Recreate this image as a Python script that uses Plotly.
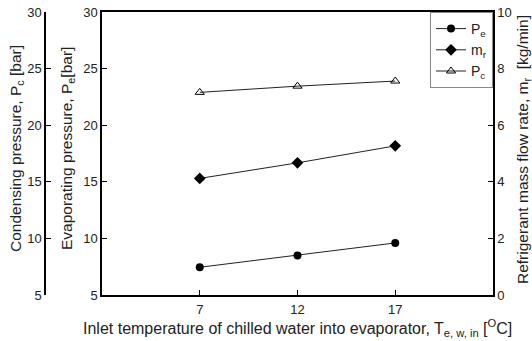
import plotly.graph_objects as go

temps = [7, 12, 17]
pe = [7.45, 8.5, 9.6]
mr = [4.12, 4.67, 5.27]
pc = [22.9, 23.45, 23.9]
x_ticks = [7, 12, 17]
p_ticks = [5, 10, 15, 20, 25, 30]
m_ticks = [0, 2, 4, 6, 8, 10]

W, H = 532, 341
left_px, right_px, top_px, bot_px = 102, 493, 12, 295
x0, x1 = left_px / W, right_px / W
plot_h = bot_px - top_px
font = "Liberation Sans, Arial, sans-serif"


def py(y_px):
    return (bot_px - y_px) / plot_h


fig = go.Figure()
fig.add_trace(go.Scatter(x=temps, y=pe, name="P<sub>e</sub>", mode="lines+markers",
                         line=dict(color="#222", width=1),
                         marker=dict(symbol="circle", size=8, color="black"), yaxis="y"))
fig.add_trace(go.Scatter(x=temps, y=mr, name="m<sub>r</sub>", mode="lines+markers",
                         line=dict(color="#222", width=1),
                         marker=dict(symbol="diamond", size=9, color="black"), yaxis="y2"))
fig.add_trace(go.Scatter(x=temps, y=pc, name="P<sub>c</sub>", mode="lines+markers",
                         line=dict(color="#222", width=1),
                         marker=dict(symbol="triangle-up-open", size=8, color="black",
                                     line=dict(width=1)), yaxis="y3"))

axis_common = dict(showgrid=False, zeroline=False, showline=True, linecolor="black",
                   linewidth=1.5, ticks="inside", ticklen=5, tickcolor="black",
                   automargin=False,
                   tickfont=dict(family=font, size=13, color="#222"))

fig.update_layout(
    width=W, height=H,
    margin=dict(l=0, r=0, t=top_px, b=H - bot_px, autoexpand=False),
    paper_bgcolor="white", plot_bgcolor="white",
    font=dict(family=font, size=13, color="#222"),
    xaxis=dict(domain=[x0, x1], range=[2, 22], tickvals=x_ticks, mirror=True,
               ticklabelstandoff=2, **axis_common),
    yaxis=dict(range=[5, 30], tickvals=p_ticks, **axis_common),
    yaxis2=dict(range=[0, 10], tickvals=m_ticks, overlaying="y", side="right",
                anchor="x", **axis_common),
    yaxis3=dict(range=[5, 30], tickvals=p_ticks, overlaying="y", side="left",
                anchor="free", position=45 / W, **axis_common),
    legend=dict(x=x1, xanchor="right", y=1, yanchor="top", bgcolor="white",
                bordercolor="#888", borderwidth=1, font=dict(family=font, size=14),
                tracegroupgap=0, itemwidth=30),
    showlegend=True,
)

fig.add_annotation(text="Condensing pressure, P<sub>c</sub> [bar]", xref="paper", yref="paper",
                   x=16 / W, xanchor="center", y=py(149), yanchor="middle",
                   textangle=-90, showarrow=False,
                   font=dict(family=font, size=15.5, color="#222"))
fig.add_annotation(text="Evaporating pressure, P<sub>e</sub>[bar]", xref="paper", yref="paper",
                   x=67 / W, xanchor="center", y=py(149), yanchor="middle",
                   textangle=-90, showarrow=False,
                   font=dict(family=font, size=15.5, color="#222"))
fig.add_annotation(text="Refrigerant mass flow rate, m<sub>r</sub>  [kg/min]", xref="paper", yref="paper",
                   x=523 / W, xanchor="center", y=py(150), yanchor="middle",
                   textangle=-90, showarrow=False,
                   font=dict(family=font, size=15.5, color="#222"))
fig.add_annotation(text="Inlet temperature of chilled water into evaporator, T<sub>e, w, in</sub> [<sup>O</sup>C]",
                   xref="paper", yref="paper", x=297 / W, xanchor="center",
                   y=py(328), yanchor="middle",
                   showarrow=False, font=dict(family=font, size=16, color="#222"))

fig.write_html("out.html", config={"displayModeBar": False},
               post_script="document.body.style.margin='0';document.body.style.padding='0';")
